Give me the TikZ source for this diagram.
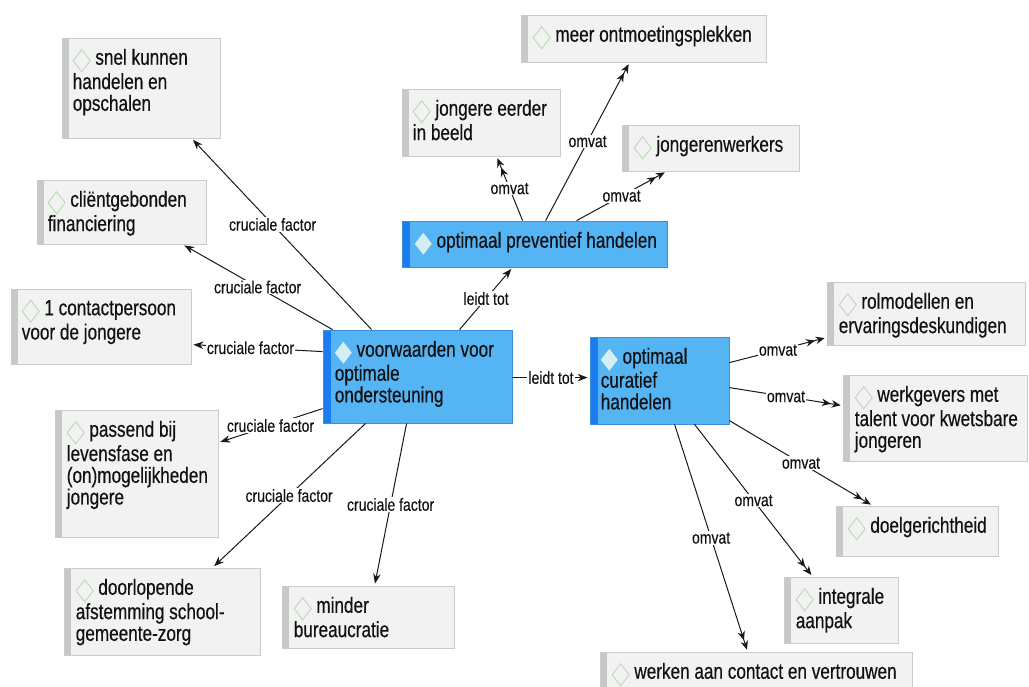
\documentclass[tikz,border=0pt]{standalone}
\usepackage{fontspec}
\setmainfont{Liberation Sans}
\newfontfamily\boxfont[FakeStretch=0.78,FakeBold=0.4]{Liberation Sans}
\newfontfamily\lblfont[FakeStretch=0.8,FakeBold=0.2]{Liberation Sans}
\usetikzlibrary{arrows.meta}
\definecolor{gfill}{HTML}{F2F2F2}
\definecolor{gborder}{HTML}{CBCBCB}
\definecolor{gband}{HTML}{C8C8C8}
\definecolor{bfill}{HTML}{55B4F4}
\definecolor{bborder}{HTML}{3A8FE0}
\definecolor{bband}{HTML}{1A7CEE}
\definecolor{diagreen}{HTML}{B2DBAC}
\definecolor{diablue}{HTML}{D5EEF2}
\definecolor{txt}{HTML}{111111}
\newcommand{\gdia}{\tikz[baseline=0pt]\draw[diagreen,line width=0.8pt] (0pt,4pt)--(8.5pt,15pt)--(17pt,4pt)--(8.5pt,-7pt)--cycle;}
\newcommand{\bdia}{\tikz[baseline=0pt]\fill[diablue] (0pt,4pt)--(8.5pt,15pt)--(17pt,4pt)--(8.5pt,-7pt)--cycle;}
\tikzset{
  gbox/.style={draw=gborder, fill=gfill, line width=0.8pt, inner sep=0pt,
    path picture={\fill[gband] (path picture bounding box.south west) rectangle ([xshift=7pt]path picture bounding box.north west);}},
  bbox/.style={draw=bborder, fill=bfill, line width=0.8pt, inner sep=0pt,
    path picture={\fill[bband] (path picture bounding box.south west) rectangle ([xshift=8pt]path picture bounding box.north west);}},
  btxt/.style={anchor=north west, inner sep=0pt, align=left, text=txt,
    font=\boxfont\fontsize{22}{21.7}\selectfont},
  lbl/.style={font=\lblfont\fontsize{17.5}{18}\selectfont, fill=white, inner sep=1pt, text=txt},
  conn/.style={draw=black!90, line width=1pt, -{Stealth[length=10pt,width=7.5pt]}, shorten >=2pt},
  conn2/.style={draw=black!90, line width=1pt, -{Stealth[length=9pt,width=7.5pt,sep=1pt]Stealth[length=9pt,width=7.5pt]}, shorten >=2pt},
}
\begin{document}
\begin{tikzpicture}[x=1pt,y=-1pt]
\useasboundingbox[fill=white] (0,0) rectangle (1029,686);

% central boxes
\node[bbox, minimum width=189pt, minimum height=93pt] (V) at (417.5,376.5) {};
\node[btxt] (Vt) at ([xshift=12pt,yshift=-11pt]V.north west) {\bdia\ voorwaarden voor\\optimale\\ondersteuning};
\node[bbox, minimum width=265pt, minimum height=46pt] (P) at (534.5,244) {};
\node[btxt] (Pt) at ([xshift=13pt,yshift=-11pt]P.north west) {\bdia\ optimaal preventief handelen};
\node[bbox, minimum width=139pt, minimum height=87pt] (C) at (659.5,380.5) {};
\node[btxt] (Ct) at ([xshift=11pt,yshift=-11pt]C.north west) {\bdia\ optimaal\\curatief\\handelen};

% grey boxes
\node[gbox, minimum width=158pt, minimum height=100pt] (snel) at (141,88) {};
\node[btxt] (snelt) at ([xshift=11pt,yshift=-11pt]snel.north west) {\gdia\ snel kunnen\\handelen en\\opschalen};
\node[gbox, minimum width=169pt, minimum height=64pt] (client) at (121.5,212) {};
\node[btxt] (clientt) at ([xshift=11pt,yshift=-11pt]client.north west) {\gdia\ cliëntgebonden\\financiering};
\node[gbox, minimum width=180pt, minimum height=75pt] (contact) at (101,326.5) {};
\node[btxt] (contactt) at ([xshift=11pt,yshift=-11pt]contact.north west) {\gdia\ 1 contactpersoon\\voor de jongere};
\node[gbox, minimum width=163pt, minimum height=127pt] (passend) at (136.5,473.5) {};
\node[btxt] (passendt) at ([xshift=12pt,yshift=-11pt]passend.north west) {\gdia\ passend bij\\levensfase en\\(on)mogelijkheden\\jongere};
\node[gbox, minimum width=196pt, minimum height=87pt] (door) at (162,611.5) {};
\node[btxt] (doort) at ([xshift=12pt,yshift=-11pt]door.north west) {\gdia\ doorlopende\\afstemming school-\\gemeente-zorg};
\node[gbox, minimum width=172pt, minimum height=62pt] (minder) at (368,617) {};
\node[btxt] (mindert) at ([xshift=12pt,yshift=-11pt]minder.north west) {\gdia\ minder\\bureaucratie};
\node[gbox, minimum width=158pt, minimum height=67pt] (jong) at (481,122.5) {};
\node[btxt] (jongt) at ([xshift=11pt,yshift=-11pt]jong.north west) {\gdia\ jongere eerder\\in beeld};
\node[gbox, minimum width=245pt, minimum height=47pt] (meer) at (643.5,38.5) {};
\node[btxt] (meert) at ([xshift=12pt,yshift=-11pt]meer.north west) {\gdia\ meer ontmoetingsplekken};
\node[gbox, minimum width=177pt, minimum height=46pt] (jw) at (710.5,148) {};
\node[btxt] (jwt) at ([xshift=12pt,yshift=-11pt]jw.north west) {\gdia\ jongerenwerkers};
\node[gbox, minimum width=198pt, minimum height=63pt] (rol) at (926,313.5) {};
\node[btxt] (rolt) at ([xshift=12pt,yshift=-11pt]rol.north west) {\gdia\ rolmodellen en\\ervaringsdeskundigen};
\node[gbox, minimum width=184pt, minimum height=86pt] (werkg) at (935,418) {};
\node[btxt] (werkgt) at ([xshift=12pt,yshift=-11pt]werkg.north west) {\gdia\ werkgevers met\\talent voor kwetsbare\\jongeren};
\node[gbox, minimum width=162pt, minimum height=50pt] (doel) at (917,531) {};
\node[btxt] (doelt) at ([xshift=12pt,yshift=-11pt]doel.north west) {\gdia\ doelgerichtheid};
\node[gbox, minimum width=114pt, minimum height=66pt] (integ) at (841,610) {};
\node[btxt] (integt) at ([xshift=12pt,yshift=-11pt]integ.north west) {\gdia\ integrale\\aanpak};
\node[gbox, minimum width=312pt, minimum height=40pt] (werken) at (756,672) {};
\node[btxt] (werkent) at ([xshift=12pt,yshift=-11pt]werken.north west) {\gdia\ werken aan contact en vertrouwen};

% connectors: cruciale factor
\draw[conn] ([xshift=49pt]V.north west) -- ([xshift=130pt]snel.south west) node[lbl,pos=0.55]{cruciale factor};
\draw[conn] ([xshift=10pt]V.north west) -- ([xshift=146pt]client.south west) node[lbl,midway]{cruciale factor};
\draw[conn] ([yshift=-22pt]V.north west) -- ([yshift=-56pt]contact.north east) node[lbl,pos=0.55]{cruciale factor};
\draw[conn] ([yshift=-79pt]V.north west) -- ([yshift=-33pt]passend.north east) node[lbl,midway]{cruciale factor};
\draw[conn] ([xshift=43pt]V.south west) -- ([xshift=149pt]door.north west) node[lbl,midway]{cruciale factor};
\draw[conn] ([xshift=84pt]V.south west) -- ([xshift=93pt]minder.north west) node[lbl,midway]{cruciale factor};
% leidt tot
\draw[conn] ([xshift=137pt]V.north west) -- ([xshift=111pt]P.south west) node[lbl,midway]{leidt tot};
\draw[conn] ([yshift=-48pt]V.north east) -- ([yshift=-41pt]C.north west) node[lbl,midway]{leidt tot};
% omvat (preventief)
\draw[conn2] ([xshift=121pt]P.north west) -- ([xshift=95pt]jong.south west) node[lbl,midway]{omvat};
\draw[conn2] ([xshift=144pt]P.north west) -- ([xshift=109pt]meer.south west) node[lbl,midway]{omvat};
\draw[conn2] ([xshift=175pt]P.north west) -- ([xshift=45pt]jw.south west) node[lbl,midway]{omvat};
% omvat (curatief)
\draw[conn2] ([yshift=-26pt]C.north east) -- ([yshift=-56pt]rol.north west) node[lbl,midway]{omvat};
\draw[conn2] ([yshift=-51pt]C.north east) -- ([yshift=-31pt]werkg.north west) node[lbl,midway]{omvat};
\draw[conn2] ([yshift=-84pt]C.north east) -- ([xshift=37pt]doel.north west) node[lbl,midway]{omvat};
\draw[conn2] ([xshift=105pt]C.south west) -- ([xshift=29pt]integ.north west) node[lbl,midway]{omvat};
\draw[conn2] ([xshift=85pt]C.south west) -- ([xshift=148pt]werken.north west) node[lbl,midway]{omvat};
\end{tikzpicture}
\end{document}
